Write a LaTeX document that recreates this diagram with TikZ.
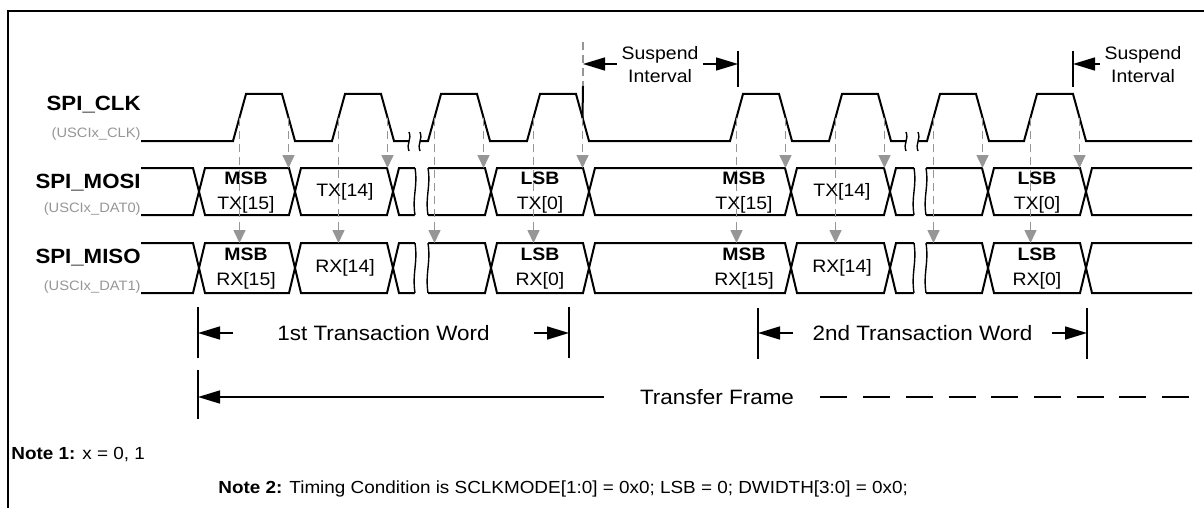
\documentclass[tikz,border=0pt]{standalone}
\usepackage{fontspec}
\setmainfont{Liberation Sans}[FakeStretch=1.08]
\usetikzlibrary{arrows.meta}
\definecolor{guide}{RGB}{150,150,150}
\newcommand{\seg}[4]{\draw[wave] ({#1+6},{(#3+#4)/2}) -- ({#1+12},#3) -- (#2,#3) -- ({#2+6},{(#3+#4)/2}) -- (#2,#4) -- ({#1+12},#4) -- cycle;}
\newcommand{\brk}[4]{%
\fill[white] (#1,#3-2) .. controls +(3,{(#4-#3)*0.4}) and +(-3,{-(#4-#3)*0.4}) .. (#1,#4+2) -- (#2,#4+2) .. controls +(-3,{-(#4-#3)*0.4}) and +(3,{(#4-#3)*0.4}) .. (#2,#3-2) -- cycle;
\draw[line width=0.7pt] (#1,#3) .. controls +(3,{(#4-#3)*0.4}) and +(-3,{-(#4-#3)*0.4}) .. (#1,#4) (#2,#3) .. controls +(3,{(#4-#3)*0.4}) and +(-3,{-(#4-#3)*0.4}) .. (#2,#4);}

\begin{document}
\begin{tikzpicture}[x=0.5pt,y=-0.5pt,
  wave/.style={line width=1pt,line join=miter},
  guideline/.style={guide,line width=0.8pt,dash pattern=on 4pt off 2.5pt},
  sample/.style={guideline,-{Triangle[length=6.5pt,width=6pt]}},
  dim/.style={line width=0.8pt},
  dimtip/.style={dim,{Triangle[length=11pt,width=6.5pt]}-},
  lbl/.style={font=\fontsize{10.3pt}{12pt}\selectfont\bfseries,anchor=base east,inner sep=0pt},
  sublbl/.style={font=\fontsize{6.8pt}{8pt}\selectfont,text=guide,anchor=base east,inner sep=0pt},
  bit/.style={font=\fontsize{9pt}{12.5pt}\selectfont,align=center,inner sep=0pt},
  txt/.style={font=\fontsize{9pt}{11.5pt}\selectfont,align=center,inner sep=0pt},
  span/.style={font=\fontsize{10.4pt}{12pt}\selectfont,inner sep=0pt},
  note/.style={font=\fontsize{8.75pt}{11pt}\selectfont,anchor=base west,inner sep=0pt}]
\useasboundingbox (0,0) rectangle (1204,508);
\draw[line width=1.2pt] (8,508) -- (8,11) -- (1204,11);

\node[lbl] (clk) at (141,111) {SPI\_CLK};
\node[sublbl] (clksub) at (141,138) {(USCIx\_CLK)};
\node[lbl] (mosi) at (141,188) {SPI\_MOSI};
\node[sublbl] (mosisub) at (141,212) {(USCIx\_DAT0)};
\node[lbl] (miso) at (141,263) {SPI\_MISO};
\node[sublbl] (misosub) at (141,290) {(USCIx\_DAT1)};

\draw[wave] (141,141) foreach \r in {233,332,428,527,730,829,927,1024} { -- (\r,141) -- ++(13,-47) -- ++(36,0) -- ++(13,47) } -- (1192,141);
\foreach \r [count=\i] in {233,332,428,527,730,829,927,1024} {
  \coordinate (rise\i) at (\r+6.5,118);
  \coordinate (fall\i) at (\r+55.5,118);
}
\coordinate (mositop) at (0,168);
\coordinate (misotop) at (0,243);

\foreach \tp/\bt in {168/215,243/293} {
  \draw[wave] (141,\tp) -- (193,\tp) -- (199,{(\tp+\bt)/2}) -- (193,\bt) -- (141,\bt);
  \foreach \a/\b in {193/289,289/387,387/485,485/583,583/785,785/884,884/982,982/1080} {\seg{\a}{\b}{\tp}{\bt}}
  \draw[wave] (1192,\tp) -- (1092,\tp) -- (1086,{(\tp+\bt)/2}) -- (1092,\bt) -- (1192,\bt);
  \brk{415}{428}{\tp}{\bt}
  \brk{914}{926}{\tp}{\bt}
}
\brk{409}{420}{132}{151}
\brk{906}{918}{132}{151}

\foreach \i in {1,...,8} {
  \draw[sample] (rise\i) -- (rise\i |- misotop);
  \draw[sample] (fall\i) -- (fall\i |- mositop);
}

\foreach \y/\sig in {193/TX,269/RX} {
  \foreach \x/\b/\n in {246/MSB/15,540/LSB/0,744/MSB/15,1037/LSB/0} {\node[bit] at (\x,\y) {\textbf{\b}\\\sig[\n]};}
  \foreach \x in {345,842} {\node[bit] at (\x,\y-1.5) {\sig[14]};}
}

\draw[guideline] (583,42) -- (583,86);
\draw[wave] (583,86) -- (fall4);
\draw[wave] (738,51) -- (738,87);
\draw[wave] (1073,51) -- (1073,87);
\coordinate (s1l) at (583,64);
\coordinate (s1r) at (738,64);
\coordinate (s2l) at (1073,64);
\node[txt,inner xsep=2pt] (susp1) at (660,65) {Suspend\\Interval};
\node[txt,inner xsep=2pt] (susp2) at (1143,65) {Suspend\\Interval};
\draw[dimtip] (s1l) -- (s1l -| susp1.west);
\draw[dimtip] (s1r) -- (s1r -| susp1.east);
\draw[dimtip] (s2l) -- (s2l -| susp2.west);

\draw[dim] (198,307) -- (198,358);
\draw[dim] (569,307) -- (569,358);
\draw[dim] (758,308) -- (758,359);
\draw[dim] (1087,308) -- (1087,359);
\draw[dim] (198,370) -- (198,419);
\coordinate (w1l) at (198,333);
\coordinate (w1r) at (569,333);
\coordinate (w2l) at (758,333);
\coordinate (w2r) at (1087,333);
\coordinate (fl) at (198,397);
\coordinate (fr) at (1190,397);
\node[span,minimum width=150.5pt] (w1) at (383.5,333) {1st Transaction Word};
\node[span,minimum width=129.5pt] (w2) at (922.5,333) {2nd Transaction Word};
\node[span,minimum width=108pt] (tf) at (712,397) {\hspace*{5pt}Transfer Frame};
\draw[dimtip] (w1l) -- (w1.west);
\draw[dimtip] (w1r) -- (w1.east);
\draw[dimtip] (w2l) -- (w2.west);
\draw[dimtip] (w2r) -- (w2.east);
\draw[dimtip] (fl) -- (tf.west);
\draw[dim,dash pattern=on 13.5pt off 7.85pt] (tf.east) -- (fr);

\node[note] (n1) at (11,459) {\textbf{Note 1:} x = 0, 1};
\node[note] (n2) at (218,493) {\textbf{Note 2:} Timing Condition is SCLKMODE[1:0] = 0x0; LSB = 0; DWIDTH[3:0] = 0x0;};
\end{tikzpicture}
\end{document}
